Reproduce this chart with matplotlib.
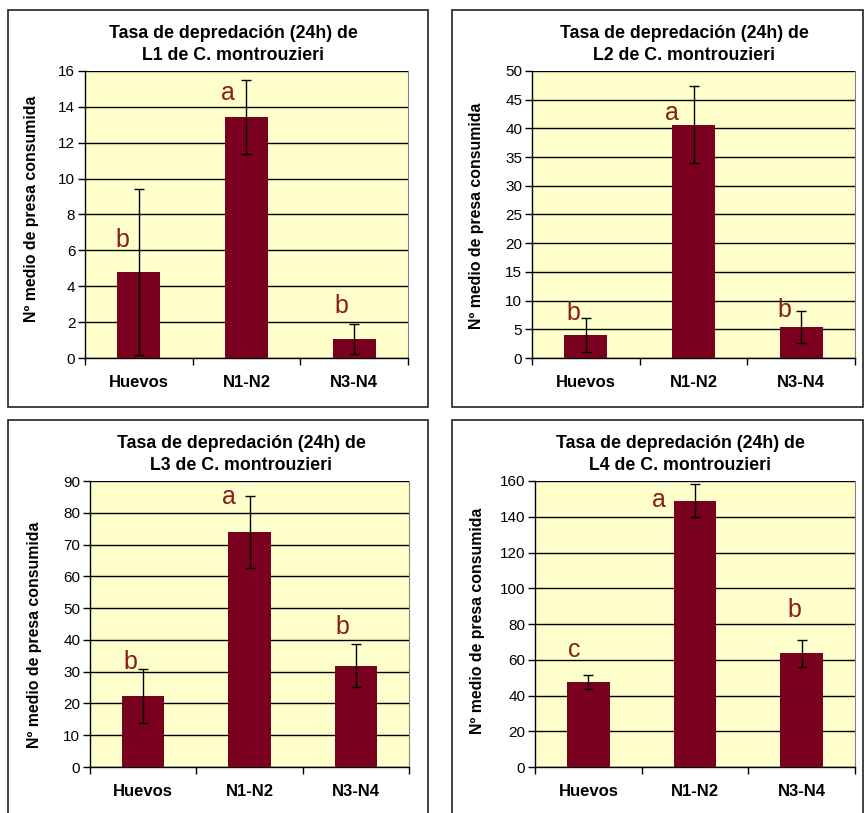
import matplotlib
matplotlib.use("Agg")
import matplotlib.pyplot as plt
from matplotlib.patches import Rectangle
from matplotlib.ticker import MultipleLocator, FixedLocator, NullFormatter

plt.rcParams["font.family"] = ["Liberation Sans", "DejaVu Sans"]

# ---- data -----------------------------------------------------------------
categories = ["Huevos", "N1-N2", "N3-N4"]
stages = ["L1", "L2", "L3", "L4"]

mean_l1 = [4.8, 13.45, 1.05]
err_l1 = [4.63, 2.06, 0.83]
mean_l2 = [4.0, 40.6, 5.35]
err_l2 = [3.0, 6.7, 2.8]
mean_l3 = [22.4, 73.9, 31.8]
err_l3 = [8.5, 11.35, 6.75]
mean_l4 = [47.7, 149.0, 63.6]
err_l4 = [4.0, 9.3, 7.4]

letters_l1 = ["b", "a", "b"]
letters_l2 = ["b", "a", "b"]
letters_l3 = ["b", "a", "b"]
letters_l4 = ["c", "a", "b"]

ymax_values = [16, 50, 90, 160]
ystep_values = [2, 5, 10, 20]

# ---- layout (pixels, origin top-left) -------------------------------------
W, H = 865, 813
panels = [
    dict(mean=mean_l1, err=err_l1, letters=letters_l1,
         plot=(85, 71, 408, 358), frame=(8, 10, 428, 407),
         title_x=233, title_y=(33, 55), ylab=(32, 209),
         let_dx=[-0.15, -0.17, -0.12], let_y=[6.2, 14.4, 2.5]),
    dict(mean=mean_l2, err=err_l2, letters=letters_l2,
         plot=(532, 71, 855, 358), frame=(452, 10, 863, 407),
         title_x=684, title_y=(33, 55), ylab=(477, 216),
         let_dx=[-0.12, -0.2, -0.16], let_y=[6.6, 41.5, 7.1]),
    dict(mean=mean_l3, err=err_l3, letters=letters_l3,
         plot=(90, 481, 409, 767), frame=(8, 420, 428, 830),
         title_x=241, title_y=(443, 465), ylab=(35, 635),
         let_dx=[-0.12, -0.19, -0.13], let_y=[30.8, 82.7, 42.0]),
    dict(mean=mean_l4, err=err_l4, letters=letters_l4,
         plot=(535, 481, 855, 767), frame=(452, 420, 863, 830),
         title_x=680, title_y=(443, 465), ylab=(478, 621),
         let_dx=[-0.13, -0.34, -0.07], let_y=[61.5, 145.5, 84.0]),
]

BAR = "#7a0020"
LETTER = "#8a1c1c"
PLOT_BG = "#ffffcc"

fig = plt.figure(figsize=(W / 100, H / 100), dpi=100)
fig.patch.set_facecolor("white")


def fx(px):
    return px / W


def fy(py):
    return 1 - py / H


for stage, p, ymax, ystep in zip(stages, panels, ymax_values, ystep_values):
    # chart frame
    x0, y0, x1, y1 = p["frame"]
    fig.patches.append(Rectangle((fx(x0), fy(y1)), fx(x1 - x0), (y1 - y0) / H,
                                 transform=fig.transFigure, fill=False,
                                 edgecolor="#222222", linewidth=1.2, zorder=0))

    l, t, r, b = p["plot"]
    ax = fig.add_axes([fx(l), fy(b), fx(r - l), (b - t) / H])
    ax.set_facecolor(PLOT_BG)

    xs = range(len(categories))
    ax.bar(xs, p["mean"], width=0.4, color=BAR, zorder=3)
    ax.errorbar(xs, p["mean"], yerr=p["err"], fmt="none", ecolor="black",
                elinewidth=1.0, capsize=3.6, capthick=1.0, zorder=4)

    for i, letter in enumerate(p["letters"]):
        ax.text(i + p["let_dx"][i], p["let_y"][i], letter, color=LETTER,
                fontsize=18, ha="center", va="baseline", zorder=5)

    ax.set_xlim(-0.5, len(categories) - 0.5)
    ax.set_ylim(0, ymax)
    ax.yaxis.set_major_locator(MultipleLocator(ystep))
    ax.grid(axis="y", color="black", linewidth=1.0, zorder=1)
    ax.set_axisbelow(True)

    ax.set_xticks(list(xs))
    ax.set_xticklabels(categories, fontsize=12, fontweight="bold")
    ax.xaxis.set_minor_locator(FixedLocator([-0.5, 0.5, 1.5, 2.5]))
    ax.xaxis.set_minor_formatter(NullFormatter())
    ax.tick_params(axis="x", which="major", length=0, pad=12)
    ax.tick_params(axis="x", which="minor", length=5, width=1.0, color="black")
    ax.tick_params(axis="y", length=5, width=1.0, pad=2, labelsize=11)

    for side in ("left", "bottom"):
        ax.spines[side].set_color("black")
        ax.spines[side].set_linewidth(1.0)
    ax.spines["right"].set_color("#808080")
    ax.spines["top"].set_visible(False)

    fig.text(fx(p["title_x"]), fy(p["title_y"][0]), "Tasa de depredación (24h) de",
             ha="center", va="center", fontsize=12.8, fontweight="bold")
    fig.text(fx(p["title_x"]), fy(p["title_y"][1]), f"{stage} de C. montrouzieri",
             ha="center", va="center", fontsize=12.8, fontweight="bold")
    fig.text(fx(p["ylab"][0]), fy(p["ylab"][1]), "Nº medio de presa consumida",
             ha="center", va="center", rotation=90, fontsize=11.4,
             fontweight="bold")

fig.savefig("out.png", dpi=100, facecolor="white")
